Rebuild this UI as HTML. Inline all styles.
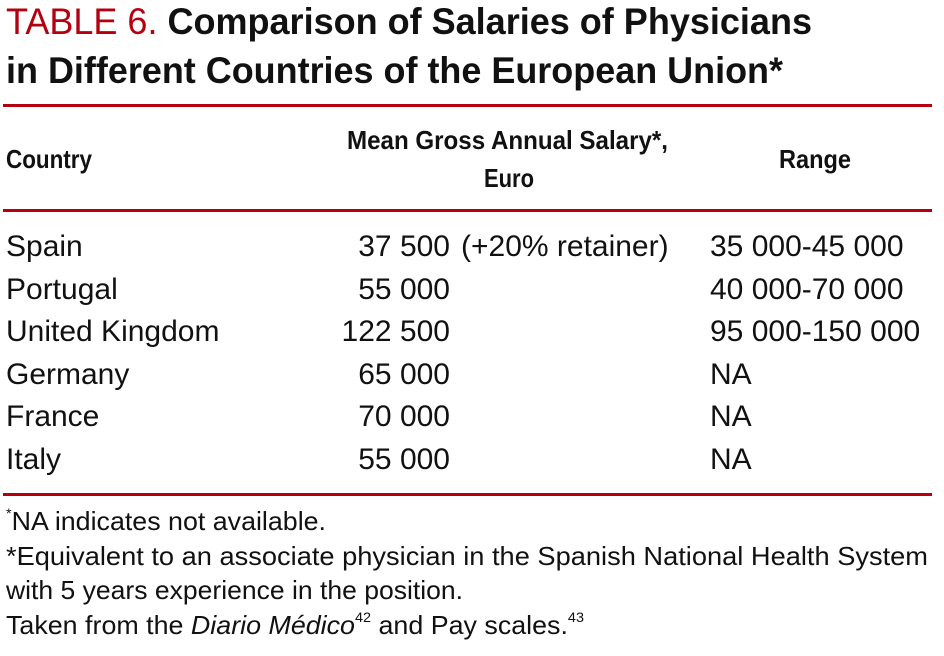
<!DOCTYPE html>
<html><head><meta charset="utf-8">
<style>
html,body{margin:0;padding:0;background:#fff;}
body{width:944px;height:656px;position:relative;overflow:hidden;font-family:"Liberation Sans",sans-serif;color:#111;}
.t{position:absolute;white-space:nowrap;line-height:1;transform-origin:0 0;}
.rule{position:absolute;left:3px;width:929px;height:3px;background:#b5000f;}
.title{font-size:37px;font-weight:bold;}
.h{font-size:26px;font-weight:bold;}
.c{font-size:30px;}
.f{font-size:26px;}
sup{font-size:14px;vertical-align:top;position:relative;top:-2px;}
</style></head>
<body>
<div class="t title" data-fit="806" style="left:6px;top:3px"><span style="color:#b5000f;font-weight:normal">TABLE 6.</span> Comparison of Salaries of Physicians</div>
<div class="t title" data-fit="777" style="left:6px;top:52px">in Different Countries of the European Union*</div>
<div class="rule" style="top:104px"></div>

<div class="t h" data-fit="86" style="left:6px;top:146px">Country</div>
<div class="t h" data-fit="321" style="left:347px;top:127px">Mean Gross Annual Salary*,</div>
<div class="t h" data-fit="50" style="left:484px;top:165px">Euro</div>
<div class="t h" data-fit="72" style="left:779px;top:146px">Range</div>
<div class="rule" style="top:209px"></div>

<div id="rows"></div>

<div class="rule" style="top:493px"></div>

<div class="t f" data-fit="320" style="left:6px;top:508px"><sup>*</sup>NA indicates not available.</div>
<div class="t f" data-fit="922" style="left:6px;top:543px">*Equivalent to an associate physician in the Spanish National Health System</div>
<div class="t f" data-fit="457" style="left:6px;top:577px">with 5 years experience in the position.</div>
<div class="t f" data-fit="578" style="left:6px;top:612px">Taken from the <i>Diario Médico</i><sup>42</sup> and Pay scales.<sup>43</sup></div>

<script>
var countries=["Spain","Portugal","United Kingdom","Germany","France","Italy"];
var salaries=["37 500","55 000","122 500","65 000","70 000","55 000"];
var notes=["(+20% retainer)","","","","",""];
var ranges=["35 000-45 000","40 000-70 000","95 000-150 000","NA","NA","NA"];
var rows=document.getElementById('rows');


for(var i=0;i<countries.length;i++){
  var rowTop=232+i*42.6;
  var a=document.createElement('div');a.className='t c';a.style.left='6px';a.style.top=rowTop+'px';a.textContent=countries[i];
  
  
  rows.appendChild(a);
  var s=document.createElement('div');s.className='t c';s.style.right=(944-450)+'px';s.style.top=rowTop+'px';s.textContent=salaries[i];
  
  
  rows.appendChild(s);
  if(notes[i]){var n=document.createElement('div');n.className='t c';n.style.left='461px';n.style.top=rowTop+'px';n.textContent=notes[i];
  
  
  rows.appendChild(n);}
  var r=document.createElement('div');r.className='t c';r.style.left='710px';r.style.top=rowTop+'px';r.textContent=ranges[i];
  
  
  rows.appendChild(r);
}
document.querySelectorAll('[data-fit]').forEach(function(el){
  var w=el.getBoundingClientRect().width,t=+el.getAttribute('data-fit');
  if(w>0)el.style.transform='scaleX('+(t/w)+')';
});
</script>
</body></html>
